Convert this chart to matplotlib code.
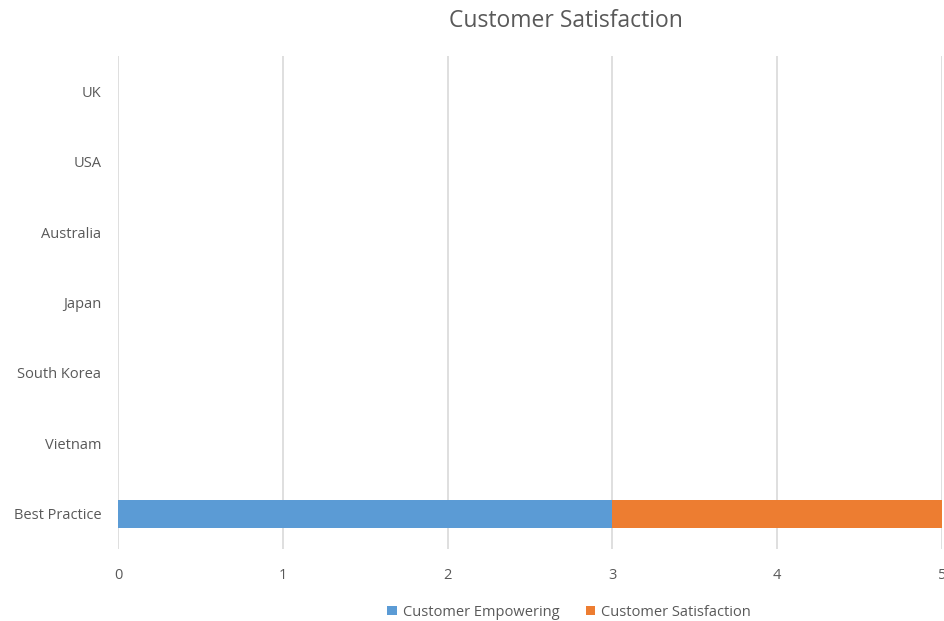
import matplotlib.pyplot as plt
import numpy as np

plt.rcParams['font.family'] = ['Open Sans', 'DejaVu Sans']

# data
countries = ['Best Practice', 'Vietnam', 'South Korea', 'Japan', 'Australia', 'USA', 'UK']
empowering = [3, 0, 0, 0, 0, 0, 0]
satisfaction = [2, 0, 0, 0, 0, 0, 0]
xticks = [0, 1, 2, 3, 4, 5]

blue = '#5B9BD5'
orange = '#ED7D31'
grey_text = '#595959'

fig = plt.figure(figsize=(9.45, 6.21), dpi=100)
ax = fig.add_axes([118/945, 1 - 549/621, (942 - 118)/945, (549 - 56)/621])

y = np.arange(len(countries))
ax.barh(y, empowering, height=0.4, color=blue, linewidth=0, label='Customer Empowering', zorder=3)
ax.barh(y, satisfaction, left=empowering, height=0.4, color=orange, linewidth=0,
        label='Customer Satisfaction', zorder=3)

ax.set_xlim(0, 5)
ax.set_ylim(-0.5, len(countries) - 0.5)
ax.set_xticks(xticks)
ax.set_yticks(y)
ax.set_yticklabels(countries)
ax.grid(axis='x', color='#d9d9d9', linewidth=1.2, zorder=0)
for s in ax.spines.values():
    s.set_visible(False)
ax.tick_params(axis='both', length=0, labelsize=10.5, labelcolor=grey_text)
ax.tick_params(axis='y', pad=12)
ax.tick_params(axis='x', pad=14)

fig.text(566/945, 1 - 21/621, 'Customer Satisfaction', ha='center', va='center',
         fontsize=16.5, color=grey_text)

fig.legend(loc='center', bbox_to_anchor=(569/945, 1 - 612/621), ncol=2, frameon=False,
           fontsize=10.5, labelcolor=grey_text, handlelength=0.65, handleheight=0.65,
           handletextpad=0.4, columnspacing=1.8)

fig.savefig('out.png', dpi=100)
